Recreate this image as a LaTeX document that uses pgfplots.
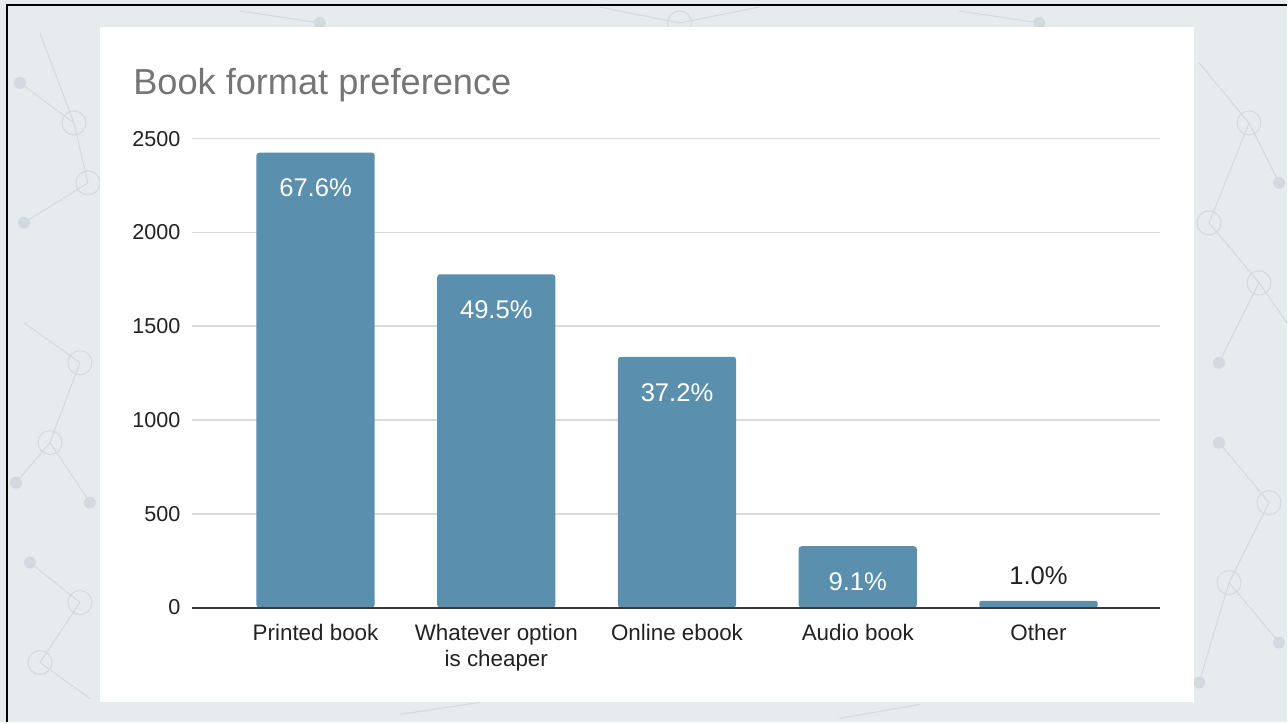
\documentclass[border=0pt]{standalone}
\usepackage{pgfplots}
\pgfplotsset{compat=1.18}
\usepackage{fontspec}
\setmainfont{Liberation Sans}
\definecolor{bg}{HTML}{E6EBEE}
\definecolor{deco}{HTML}{D2DADF}
\definecolor{barc}{HTML}{5A8FAE}
\definecolor{gridc}{HTML}{DADADA}
\definecolor{titlec}{HTML}{757575}
\definecolor{txt}{HTML}{222222}
\definecolor{zeroc}{HTML}{3A3A3A}
\begin{document}
\begin{tikzpicture}[x=1pt,y=1pt]
\fill[bg] (0,0) rectangle (644,361.5);
% faint decorative network in the margins
\begin{scope}[deco, line width=0.5pt]
\draw (10,320) -- (37,300) -- (44,270) -- (12,250);
\draw (37,300) -- (20,345);
\draw (12,200) -- (40,180) -- (25,140) -- (45,110);
\draw (25,140) -- (8,120);
\draw (15,80) -- (40,60) -- (20,30) -- (45,12);
\draw (600,330) -- (625,300) -- (640,270);
\draw (625,300) -- (605,250) -- (630,220) -- (610,180);
\draw (630,220) -- (644,200);
\draw (610,140) -- (635,110) -- (615,70) -- (640,40);
\draw (615,70) -- (600,20);
\draw (120,356) -- (160,350); \draw (300,358) -- (340,350) -- (380,358);
\draw (480,356) -- (520,350); \draw (200,4) -- (240,10); \draw (420,2) -- (460,9);
\foreach \p in {(37,300),(44,270),(40,180),(25,140),(40,60),(20,30),(625,300),(605,250),(630,220),(635,110),(615,70),(340,350)}
  {\draw \p circle (6);}
\foreach \p in {(12,250),(10,320),(45,110),(8,120),(15,80),(640,270),(610,180),(610,140),(640,40),(600,20),(160,350),(520,350)}
  {\fill \p circle (3);}
\end{scope}
\fill[white] (50,10) rectangle (597.5,348);
\draw[black, line width=1pt] (3.5,0) -- (3.5,359) -- (644,359);
\node[anchor=base west, text=titlec, font=\fontsize{18.1}{20}\selectfont, inner sep=0pt] at (66.5,314) {Book format preference};
\begin{axis}[
  at={(96pt,57.5pt)}, anchor=south west,
  scale only axis, width=484.5pt, height=234.6pt,
  xmin=-0.6845, xmax=4.673, ymin=0, ymax=2500,
  axis line style={draw=none},
  major tick length=0pt,
  ytick={0,500,1000,1500,2000,2500},
  ymajorgrids, grid style={gridc, line width=0.75pt},
  xtick={0,1,2,3,4},
  xticklabels={Printed book,{Whatever option\\is cheaper},Online ebook,Audio book,Other},
  xticklabel style={align=center, inner sep=0pt, yshift=-8pt, text=txt, font=\fontsize{11.2}{13}\selectfont},
  yticklabel style={inner sep=0pt, xshift=-5.5pt, text=txt, font=\fontsize{10.8}{12}\selectfont},
  /pgf/number format/assume math mode=true,
  scaled y ticks=false,
  yticklabel={\pgfmathprintnumber[fixed,precision=0,1000 sep={}]{\tick}},
  clip=false,
]
\addplot[ybar, bar width=59.2pt, bar shift=0pt, fill=barc, draw=none, rounded corners=1.5pt,
  point meta=explicit symbolic, nodes near coords,
  every node near coord/.append style={anchor=center, yshift=-17.75pt, text=white, font=\fontsize{12.8}{14}\selectfont}]
  coordinates {(0,2426) [67.6\%] (1,1777) [49.5\%] (2,1337) [37.2\%] (3,327) [9.1\%]};
\addplot[ybar, bar width=59.2pt, bar shift=0pt, fill=barc, draw=none, rounded corners=1pt,
  point meta=explicit symbolic, nodes near coords,
  every node near coord/.append style={anchor=center, yshift=12.65pt, text=txt, font=\fontsize{12.8}{14}\selectfont}]
  coordinates {(4,35) [1.0\%]};
\draw[zeroc, line width=1pt] (axis cs:-0.6845,0) -- (axis cs:4.673,0);
\end{axis}
\end{tikzpicture}
\end{document}
